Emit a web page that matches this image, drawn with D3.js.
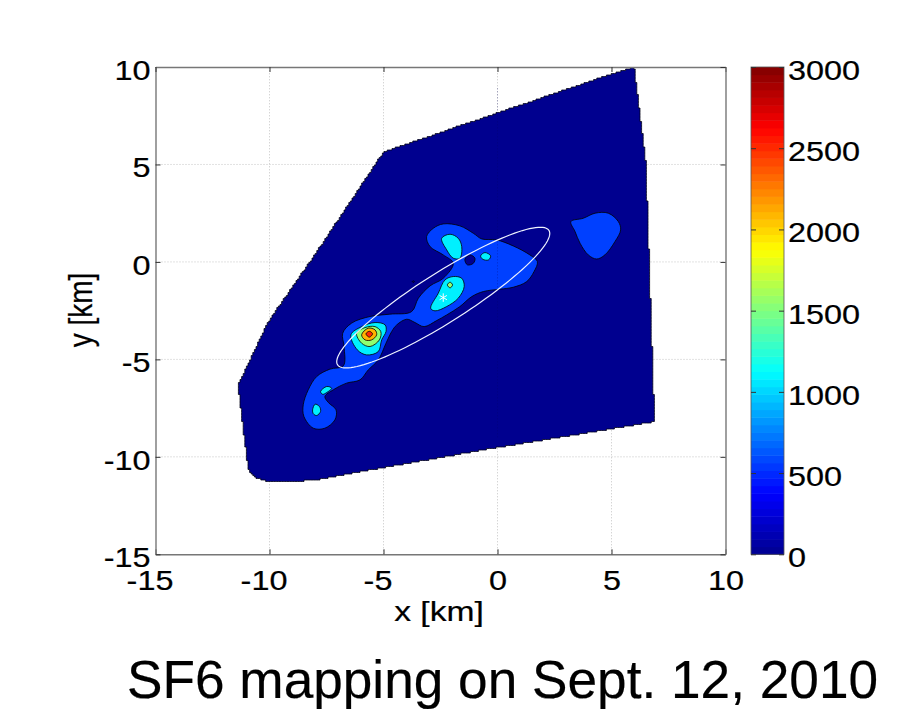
<!DOCTYPE html>
<html><head><meta charset="utf-8">
<script src="https://cdn.jsdelivr.net/npm/d3@7"></script>
<style>html,body{margin:0;background:#fff}svg{display:block}text{font-family:"Liberation Sans",Arial,sans-serif;fill:#000;stroke:#000;stroke-width:.2px}</style>
</head><body><svg id="c" width="909" height="713"></svg>
<script>
const xTicks=[-15,-10,-5,0,5,10];
const yTicks=[-15,-10,-5,0,5,10];
const colorTicks=[0,500,1000,1500,2000,2500,3000];
const xLabel="x [km]", yLabel="y [km]", title="SF6 mapping on Sept. 12, 2010";

const domainOutline=[[5.99,10],[6.51,5.08],[6.86,-7.33],[6.91,-8.2],[-0.33,-9.59],[-5.02,-10.56],[-7.93,-11.18],[-9.1,-11.28],[-9.98,-11.3],[-10.6,-11.05],[-10.89,-10.75],[-11,-9.98],[-11.38,-6.31],[-10.07,-3.08],[-7.87,0.62],[-5.01,5.64],[-4.5,5.85],[-3.4,6.29],[4.5,9.45]];
const plumeMain=[[-2.38,1.95],[-1.65,1.85],[-1.06,1.47],[-0.69,1.18],[-0.04,1.13],[0.69,0.82],[1.42,0.36],[1.75,0.02],[1.6,-0.5],[1.28,-1.01],[0.69,-1.3],[0.11,-1.4],[-0.62,-1.52],[-1.13,-1.78],[-1.65,-2.29],[-2.23,-2.72],[-2.67,-3.01],[-3.22,-3.32],[-3.62,-3.11],[-3.98,-2.94],[-4.42,-3.23],[-4.64,-3.57],[-4.89,-4.17],[-5.23,-5.03],[-5.67,-5.54],[-6.03,-6.05],[-6.62,-6.22],[-7.2,-6.56],[-7.57,-6.91],[-7.42,-7.21],[-7.08,-7.59],[-7.13,-8.1],[-7.57,-8.53],[-8.08,-8.53],[-8.49,-7.93],[-8.52,-7.33],[-8.3,-6.56],[-7.93,-5.88],[-7.35,-5.5],[-6.76,-5.33],[-6.73,-4.34],[-6.79,-3.66],[-6.4,-3.14],[-5.59,-2.8],[-4.72,-2.68],[-3.77,-2.55],[-3.47,-1.86],[-2.96,-1.23],[-2.38,-0.84],[-1.94,-0.07],[-2.38,0.36],[-2.96,0.79],[-3.11,1.3],[-2.81,1.73]];
const plumeEast=[[3.22,2.07],[3.76,2.24],[4.28,2.5],[4.86,2.5],[5.3,2.07],[5.4,1.64],[5.15,1.04],[4.71,0.36],[4.35,0.15],[3.98,0.36],[3.62,0.96],[3.4,1.56]];
const holeCentre=[[-1.43,0.14],[-1.21,0.36],[-0.99,0.19],[-1.06,-0.07],[-1.32,-0.15]];
const holeTiny=[[-3.74,-1.01],[-3.69,-0.97],[-3.64,-1.01],[-3.69,-1.05]];
const cyanUpper=[[-2.45,1.21],[-2.08,1.42],[-1.72,1.21],[-1.57,0.79],[-1.65,0.19],[-1.94,0.19],[-2.23,0.62]];
const cyanSmall=[[-0.74,0.31],[-0.55,0.48],[-0.3,0.31],[-0.4,0.1],[-0.65,0.14]];
const cyanMiddle=[[-2.93,-2.38],[-2.6,-1.61],[-2.3,-0.92],[-1.94,-0.75],[-1.57,-0.84],[-1.46,-1.26],[-1.72,-1.86],[-2.23,-2.29],[-2.74,-2.51]];
const cyanPeak=[[-6.43,-3.74],[-5.96,-3.32],[-5.37,-3.11],[-4.93,-3.23],[-4.89,-3.57],[-5.08,-4],[-5.23,-4.6],[-5.74,-4.77],[-6.15,-4.51]];
const cyanLower=[[-7.76,-6.65],[-7.49,-6.39],[-7.27,-6.48],[-7.49,-6.7],[-7.67,-6.79]];
const cyanBottom=[[-8.11,-7.59],[-8,-7.3],[-7.81,-7.42],[-7.76,-7.67],[-7.93,-7.88],[-8.08,-7.79]];
const greenMiddle=[[-2.2,-1.18],[-2.08,-1.04],[-1.97,-1.18],[-2.08,-1.33]];
const greenPeak=[[-6.18,-3.66],[-5.81,-3.37],[-5.37,-3.32],[-5.12,-3.57],[-5.18,-4],[-5.59,-4.34],[-5.96,-4.17]];
const orangePeak=[[-5.96,-3.74],[-5.67,-3.4],[-5.37,-3.49],[-5.3,-3.74],[-5.52,-4],[-5.81,-4]];
const redPeak=[[-5.77,-3.69],[-5.62,-3.56],[-5.48,-3.69],[-5.62,-3.86]];
const contourLayers=[
 [562,plumeMain],[562,plumeEast],[0,holeCentre],[0,holeTiny],
 [1080,cyanUpper],[1080,cyanSmall],[1080,cyanMiddle],[1080,cyanPeak],[1080,cyanLower],[1080,cyanBottom],
 [1545,greenMiddle],[1545,greenPeak],[2100,orangePeak],[2500,redPeak]];
const ellipseCentre=[-2.38,-1.83], ellipseSemiMajor=5.78, ellipseSemiMinor=1.2, ellipseAngleDeg=37;
const sourcePoint=[-2.38,-1.83];

const svg=d3.select("#c");
const x=d3.scaleLinear().domain([-15,10]).range([155.5,725.5]);
const y=d3.scaleLinear().domain([-15,10]).range([554.3,67]);
const cbY=d3.scaleLinear().domain([0,3000]).range([554.3,67]);
const jet=d3.scaleLinear().domain([0,375,1125,1875,2625,3000]).range(["#00008f","#0000ff","#00ffff","#ffff00","#ff0000","#800000"]).interpolate(d3.interpolateRgb);
const FS=27, SX=1.2;
const plain=d=>String(d);

const gridG=svg.append("g").attr("stroke","#c4c4c4").attr("stroke-width",1).attr("stroke-dasharray","1 2");
gridG.selectAll(".gx").data(xTicks.slice(1,-1)).join("line").attr("class","gx").attr("x1",d=>x(d)).attr("x2",d=>x(d)).attr("y1",y(-15)).attr("y2",y(10));
gridG.selectAll(".gy").data(yTicks.slice(1,-1)).join("line").attr("class","gy").attr("y1",d=>y(d)).attr("y2",d=>y(d)).attr("x1",x(-15)).attr("x2",x(10));

const linePath=d3.line().x(d=>x(d[0])).y(d=>y(d[1]));
const smooth=d3.line().x(d=>x(d[0])).y(d=>y(d[1])).curve(d3.curveCatmullRomClosed.alpha(0.5));

// the survey field's edge follows the model grid, so it is drawn as a fine staircase on that grid
const cellX=1.6, cellY=1.5;
const closed=domainOutline.concat([domainOutline[0]]).map(d=>[x(d[0]),y(d[1])]);
const snapped=[];
d3.pairs(closed).forEach(([a,b])=>{
  const n=Math.ceil(Math.hypot(b[0]-a[0],b[1]-a[1]));
  d3.range(n).forEach(i=>{
    const p=[Math.round((a[0]+(b[0]-a[0])*i/n)/cellX)*cellX,Math.round((a[1]+(b[1]-a[1])*i/n)/cellY)*cellY];
    const q=snapped[snapped.length-1];
    if(!q||q[0]!==p[0]||q[1]!==p[1]) snapped.push(p);
  });
});
svg.append("path").attr("d",d3.line().curve(d3.curveStepAfter)(snapped)+"Z").attr("fill",jet(0)).attr("stroke","#000018").attr("stroke-width",.8);
svg.append("g").selectAll("path").data(contourLayers).join("path")
  .attr("d",d=>smooth(d[1])).attr("fill",d=>jet(d[0])).attr("stroke","#000").attr("stroke-width",.8);

const gridTop=svg.append("g").attr("stroke","#000060").attr("stroke-opacity",.35).attr("stroke-width",1).attr("stroke-dasharray","1 2");
gridTop.selectAll("line").data([0]).join("line").attr("x1",d=>x(d)).attr("x2",d=>x(d)).attr("y1",y(-9)).attr("y2",y(9));

const th=ellipseAngleDeg*Math.PI/180;
const ellPts=d3.range(0,360,3).map(a=>{const t=a*Math.PI/180,u=ellipseSemiMajor*Math.cos(t),v=ellipseSemiMinor*Math.sin(t);
  return [ellipseCentre[0]+u*Math.cos(th)-v*Math.sin(th),ellipseCentre[1]+u*Math.sin(th)+v*Math.cos(th)];});
svg.append("path").attr("d",linePath(ellPts)+"Z").attr("fill","none").attr("stroke","#eef2ff").attr("stroke-width",1.2);
svg.append("path").attr("d",d3.symbol(d3.symbolAsterisk,50)()).attr("transform",`translate(${x(sourcePoint[0])},${y(sourcePoint[1])})`).attr("fill","none").attr("stroke","#fff").attr("stroke-width",1);

function styleAxis(g){g.select(".domain").attr("stroke","#777").attr("stroke-width",1.4);g.selectAll(".tick line").attr("stroke","#333").attr("stroke-width",1);}
const gx=svg.append("g").attr("transform",`translate(0,${y(-15)})`).call(d3.axisBottom(x).tickValues(xTicks).tickSize(-5).tickSizeOuter(0).tickFormat(plain)).call(styleAxis);
gx.selectAll("text").attr("x",null).attr("y",null).attr("dy",null).attr("text-anchor","middle").style("font-size",FS+"px").style("font-family",'"Liberation Sans"')
  .attr("transform",d=>`translate(${d<0?-6:0},36) scale(${SX},1)`);
const gy=svg.append("g").attr("transform",`translate(${x(-15)},0)`).call(d3.axisLeft(y).tickValues(yTicks).tickSize(-5).tickSizeOuter(0).tickFormat(plain)).call(styleAxis);
gy.selectAll("text").attr("x",null).attr("y",null).attr("dy",null).attr("text-anchor","end").style("font-size",FS+"px").style("font-family",'"Liberation Sans"')
  .attr("transform",`translate(-5,12.5) scale(${SX},1)`);
svg.append("g").attr("transform",`translate(0,${y(10)})`).call(d3.axisTop(x).tickValues(xTicks).tickSize(-5).tickSizeOuter(0).tickFormat("")).call(styleAxis);
svg.append("g").attr("transform",`translate(${x(10)},0)`).call(d3.axisRight(y).tickValues(yTicks).tickSize(-5).tickSizeOuter(0).tickFormat("")).call(styleAxis);

svg.append("text").text(xLabel).style("font-size","28px").attr("text-anchor","middle").attr("transform",`translate(439,621) scale(${SX},1)`);
svg.append("text").text(yLabel).style("font-size","28px").attr("text-anchor","middle").attr("transform",`translate(92,310) rotate(-90) scale(1,${SX})`);
svg.append("text").text(title).style("font-size","53.2px").attr("x",127).attr("y",698);

const cbL=751, cbR=784, nCb=64;
svg.append("g").selectAll("rect").data(d3.range(nCb)).join("rect")
  .attr("x",cbL).attr("width",cbR-cbL)
  .attr("y",i=>cbY((i+1)*3000/nCb)).attr("height",i=>cbY(i*3000/nCb)-cbY((i+1)*3000/nCb)+.5)
  .attr("fill",i=>jet((i+.5)*3000/nCb));
svg.append("rect").attr("x",cbL).attr("y",cbY(3000)).attr("width",cbR-cbL).attr("height",cbY(0)-cbY(3000)).attr("fill","none").attr("stroke","#555").attr("stroke-width",.8);
const gc=svg.append("g").attr("transform",`translate(${cbR},0)`).call(d3.axisRight(cbY).tickValues(colorTicks).tickSize(-5).tickSizeOuter(0).tickFormat(plain));
gc.select(".domain").remove();
gc.selectAll(".tick line").attr("stroke","#333");
gc.selectAll("text").attr("x",null).attr("y",null).attr("dy",null).attr("text-anchor","start").style("font-size",FS+"px").style("font-family",'"Liberation Sans"')
  .attr("transform",`translate(4,12.5) scale(${SX},1)`);
const gcl=svg.append("g").attr("transform",`translate(${cbL},0)`).call(d3.axisLeft(cbY).tickValues(colorTicks).tickSize(-5).tickSizeOuter(0).tickFormat(""));
gcl.select(".domain").remove();
gcl.selectAll(".tick line").attr("stroke","#333");
</script></body></html>
